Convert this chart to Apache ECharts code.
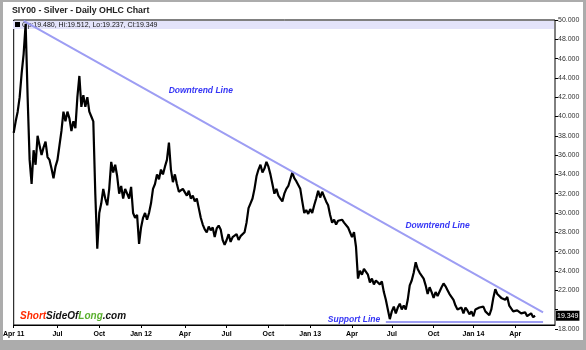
<!DOCTYPE html>
<html>
<head>
<meta charset="utf-8">
<script src="https://cdn.jsdelivr.net/npm/echarts@6/dist/echarts.min.js"></script>
<style>
  html, body { margin: 0; padding: 0; background: #acacac; }
  #panel { position: absolute; left: 3px; top: 2px; width: 580px; height: 338px; background: #ffffff; }
  #chart { position: absolute; left: 0; top: 0; width: 586px; height: 350px; }
</style>
</head>
<body>
<div id="panel"></div>
<div id="chart"></div>
<script>
// Silver (SIY00), sampled every third session from 1 Apr 2011 to mid May 2014
const closes = [
  38.3, 39.5, 40.5, 42.0, 44.5, 46.5, 49.6, 42.0, 35.5, 33.0, 36.5, 35.0, 38.0, 37.0, 36.0, 36.8, 37.4, 35.8, 35.5, 34.6, 33.6, 34.8,
  35.5, 37.0, 38.5, 40.5, 39.5, 40.5, 39.8, 38.5, 39.5, 38.8, 42.0, 44.2, 41.0, 42.2, 41.0, 42.0, 40.5, 40.0, 39.5, 32.0, 26.3,
  30.0, 31.0, 32.5, 31.5, 30.8, 32.5, 35.3, 34.2, 35.0, 33.8, 32.0, 32.8, 31.5, 32.5, 32.0, 31.5, 32.7, 30.0, 29.5, 29.8, 26.8,
  28.5, 29.5, 30.0, 29.3, 30.0, 31.0, 32.5, 33.0, 34.0, 33.5, 34.5, 34.0, 34.8, 35.5, 37.3, 34.5, 33.2, 34.0, 33.0, 32.2, 32.0, 32.5,
  32.5, 31.8, 32.3, 31.5, 31.8, 31.2, 31.5, 30.5, 29.5, 28.8, 28.3, 28.0, 28.6, 28.2, 28.5, 27.5, 28.4, 28.7, 28.3, 27.2, 26.7,
  27.2, 27.8, 27.0, 27.5, 27.3, 27.8, 27.2, 27.6, 27.8, 28.0, 29.0, 30.5, 31.0, 31.5, 32.5, 33.8, 34.5, 35.0, 34.2, 34.6, 35.3,
  34.8, 34.0, 33.0, 32.0, 32.5, 31.8, 31.5, 31.2, 32.0, 32.5, 32.8, 33.5, 34.2, 33.6, 33.3, 33.5, 32.5, 31.2, 30.0, 30.3, 29.9,
  30.4, 30.0, 30.8, 31.5, 32.3, 31.6, 32.2, 31.7, 31.2, 30.8, 29.8, 29.0, 29.3, 28.8, 29.2, 29.0, 29.3, 29.0, 28.8, 28.5, 28.0,
  27.5, 28.0, 26.5, 23.2, 24.0, 23.6, 24.2, 24.0, 23.6, 22.8, 23.2, 22.6, 23.0, 22.8, 22.6, 22.9, 21.8, 21.0, 20.0, 19.0,
  19.8, 20.3, 19.6, 20.2, 20.6, 20.0, 20.4, 20.0, 21.0, 22.5, 23.0, 23.8, 24.9, 24.2, 23.8, 23.9, 23.2, 22.5, 21.6, 22.3, 21.8,
  21.2, 21.8, 21.4, 21.6, 22.3, 22.7, 22.4, 22.0, 21.6, 21.7, 21.0, 20.4, 20.0, 19.8, 20.2, 19.6, 20.2, 19.9, 19.5, 19.8, 19.3,
  20.0, 19.8, 20.2, 20.0, 20.3, 19.8, 19.9, 19.4, 20.0, 21.2, 22.1, 21.6, 21.4, 21.2, 21.4, 21.0, 21.3, 20.4, 20.2, 19.8,
  20.0, 19.9, 20.1, 19.6, 19.4, 19.7, 19.3, 19.1, 19.6, 19.2, 19.349
];

// Last session: open, high, low, close
const lastOHLC = [19.480, 19.512, 19.237, 19.349];

// Time slots on the axis (three sessions each) and the quarter marks
const slotCount = 273;
const quarterSlots = [0, 22, 43, 64, 86, 107, 128, 149, 170, 190, 211, 231, 252];
const quarterLabels = ['Apr 11', 'Jul', 'Oct', 'Jan 12', 'Apr', 'Jul', 'Oct', 'Jan 13', 'Apr', 'Jul', 'Oct', 'Jan 14', 'Apr'];

// Price scale
const priceMax = 50;
const priceTickMin = 18;
const priceTickStep = 2;
const plotBottomPrice = 18.39;

// Trend lines: [slot, price] end points
const downtrendLine = [[5, 49.9], [266, 19.7]];
const supportLine = [[187, 18.74], [266, 18.74]];

// Annotation texts: [slot, price, text]
const notes = [
  [94, 42.64, 'Downtrend Line'],
  [213, 28.65, 'Downtrend Line'],
  [171, 18.91, 'Support Line']
];

const slots = Array.from({ length: slotCount }, (_, i) => String(i));
const isQuarter = (idx) => quarterSlots.indexOf(idx) >= 0;

const FONT = "'Liberation Sans', Arial, sans-serif";
const plotTop = 20, plotBottom = 25, plotLeft = 12, plotRight = 31;
const plotH = 350 - plotTop - plotBottom;
const unitPx = plotH / (priceMax - plotBottomPrice);
const labelGridH = (priceMax - priceTickMin) * unitPx;

const chart = echarts.init(document.getElementById('chart'), null, { renderer: 'canvas' });

const fmtPrice = (v) => v.toFixed(3);
const legendText = 'Op:' + fmtPrice(lastOHLC[0]) + ', Hi:' + fmtPrice(lastOHLC[1]) +
                   ', Lo:' + fmtPrice(lastOHLC[2]) + ', Cl:' + fmtPrice(lastOHLC[3]);

const option = {
  animation: false,
  backgroundColor: 'transparent',
  textStyle: { fontFamily: FONT },
  grid: [
    { left: plotLeft, right: plotRight, top: plotTop, bottom: plotBottom, show: true,
      borderColor: '#000', borderWidth: 1, backgroundColor: 'transparent', containLabel: false },
    { left: plotLeft, right: plotRight, top: plotTop, height: labelGridH, show: false, containLabel: false }
  ],
  xAxis: [
    {
      type: 'category', gridIndex: 0, data: slots, boundaryGap: false,
      axisLine: { show: true, lineStyle: { color: '#000', width: 1 } },
      axisTick: { show: true, interval: (idx) => isQuarter(idx), length: 3, lineStyle: { color: '#000' } },
      axisLabel: {
        show: true, interval: (idx) => isQuarter(idx),
        formatter: (v, idx) => quarterLabels[quarterSlots.indexOf(idx)] || '',
        fontSize: 7, fontWeight: 'bold', color: '#000', margin: 6, fontFamily: FONT
      },
      splitLine: { show: false }
    },
    { type: 'category', gridIndex: 1, data: slots, boundaryGap: false, show: false }
  ],
  yAxis: [
    { type: 'value', gridIndex: 0, position: 'right', min: plotBottomPrice, max: priceMax, show: false, splitLine: { show: false } },
    {
      type: 'value', gridIndex: 1, position: 'right', min: priceTickMin, max: priceMax, interval: priceTickStep,
      axisLine: { show: false },
      axisTick: { show: true, length: 3, lineStyle: { color: '#000' } },
      axisLabel: {
        show: true, margin: 3, fontSize: 7, color: '#333', fontFamily: FONT,
        formatter: (v) => (v === 20 ? '' : v.toFixed(3))
      },
      splitLine: { show: false }
    }
  ],
  series: [
    {
      type: 'line', xAxisIndex: 0, yAxisIndex: 0, data: closes,
      symbol: 'none', z: 3,
      lineStyle: { color: '#000', width: 2.2 },
      markLine: {
        silent: true, symbol: 'none', animation: false,
        lineStyle: { color: '#9d9df3', width: 2, type: 'solid' },
        label: { show: false },
        data: [
          [ { coord: [String(downtrendLine[0][0]), downtrendLine[0][1]] }, { coord: [String(downtrendLine[1][0]), downtrendLine[1][1]] } ],
          [ { coord: [String(supportLine[0][0]), supportLine[0][1]] }, { coord: [String(supportLine[1][0]), supportLine[1][1]] } ],
          {
            yAxis: lastOHLC[3],
            lineStyle: { color: 'rgba(0,0,0,0)', width: 1 },
            label: {
              show: true, position: 'end', distance: 1,
              formatter: () => fmtPrice(lastOHLC[3]),
              backgroundColor: '#000', color: '#fff', fontSize: 7, fontFamily: FONT,
              padding: [2, 1, 1, 1]
            }
          }
        ]
      },
      markPoint: {
        silent: true, symbol: 'rect', symbolSize: 1,
        itemStyle: { color: 'rgba(0,0,0,0)' },
        label: {
          show: true, position: 'inside', color: '#3535f5',
          fontSize: 8.5, fontWeight: 'bold', fontStyle: 'italic', fontFamily: FONT,
          formatter: (p) => p.data.text
        },
        data: notes.map((n) => ({ coord: [String(n[0]), n[1]], text: n[2] }))
      }
    }
  ],
  graphic: [
    { type: 'rect', z: 0, silent: true, shape: { x: plotLeft + 1, y: plotTop + 1, width: 586 - plotLeft - plotRight - 2, height: 8 },
      style: { fill: '#e3e3fa' } },
    { type: 'rect', z: 1, silent: true, shape: { x: 15, y: 22, width: 5, height: 5 }, style: { fill: '#000' } },
    { type: 'text', z: 1, silent: true, x: 22, y: 25,
      style: { text: legendText, fontSize: 7, fontFamily: FONT, fill: '#111', verticalAlign: 'middle' } },
    { type: 'text', z: 1, silent: true, x: 12, y: 11,
      style: { text: 'SIY00 - Silver - Daily OHLC Chart', fontSize: 8.8, fontWeight: 'bold', fontFamily: FONT, fill: '#222', verticalAlign: 'middle' } },
    { type: 'text', z: 1, silent: true, x: 20, y: 316,
      style: {
        text: '{r|Short}{k|SideOf}{g|Long}{k|.com}',
        verticalAlign: 'middle',
        rich: {
          r: { fill: '#ff2a00', fontSize: 10, fontWeight: 'bold', fontStyle: 'italic', fontFamily: FONT },
          k: { fill: '#111111', fontSize: 10, fontWeight: 'bold', fontStyle: 'italic', fontFamily: FONT },
          g: { fill: '#5ab02e', fontSize: 10, fontWeight: 'bold', fontStyle: 'italic', fontFamily: FONT }
        }
      } }
  ]
};

chart.setOption(option);
</script>
</body>
</html>
